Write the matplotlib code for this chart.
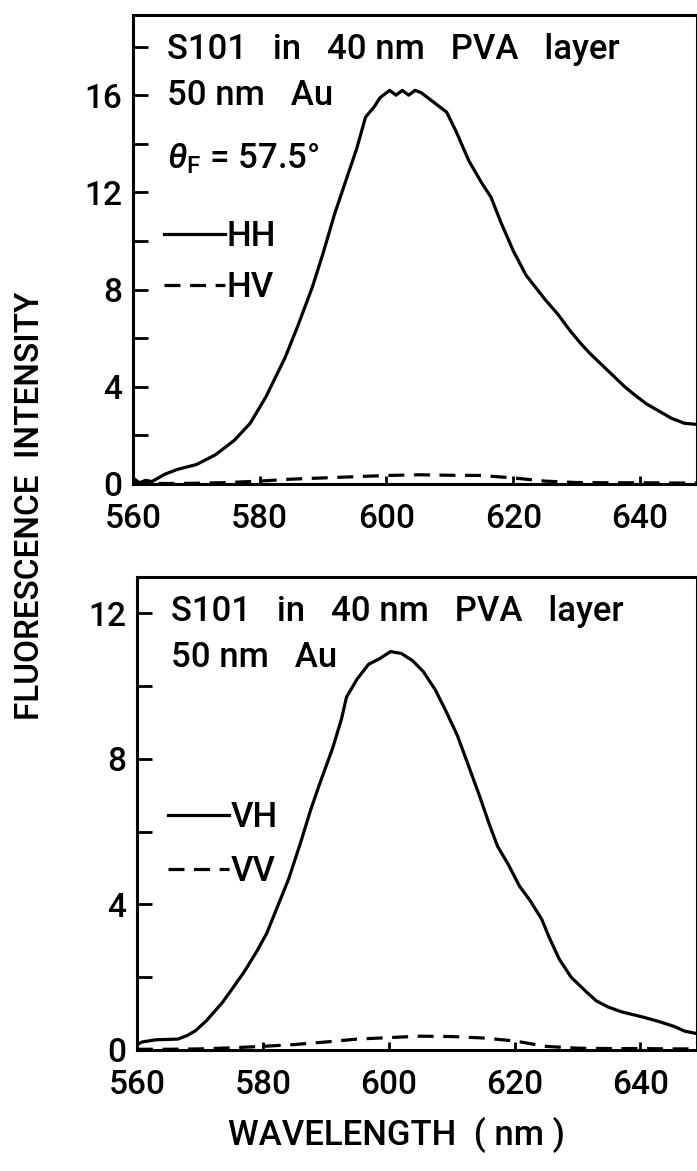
import matplotlib
matplotlib.use('Agg')
import matplotlib.pyplot as plt
from matplotlib.ticker import MultipleLocator, FixedLocator

plt.rcParams['font.family'] = ['Roboto', 'DejaVu Sans']
plt.rcParams['font.weight'] = 'medium'
plt.rcParams['mathtext.fontset'] = 'custom'
plt.rcParams['mathtext.it'] = 'Roboto:italic:medium'
plt.rcParams['mathtext.rm'] = 'Roboto:medium'

# top panel: HH / HV
wl_hh = [560, 561, 562, 563, 565, 567, 570, 573, 576, 578.5, 581, 584, 586, 588.3, 590,
         591.8, 594, 595.3, 596.7, 598, 599, 600.5, 601.5, 602.5, 603.5, 604.5, 605.5,
         607, 608.5, 609.5, 611, 613, 615, 616.5, 618, 620, 622, 623.5, 625, 627, 629,
         630.6, 632, 634, 636, 637.6, 639, 641, 643, 645, 647, 649]
hh = [0.25, 0.05, 0.15, 0.1, 0.4, 0.6, 0.8, 1.2, 1.8, 2.5, 3.6, 5.2, 6.5, 8.1, 9.5,
      11.1, 12.8, 13.8, 15.1, 15.5, 15.9, 16.2, 16.0, 16.2, 16.0, 16.2, 16.1,
      15.8, 15.5, 15.3, 14.5, 13.3, 12.4, 11.8, 10.8, 9.6, 8.6, 8.1, 7.6, 7.0, 6.3,
      5.8, 5.4, 4.9, 4.4, 4.0, 3.7, 3.3, 3.0, 2.7, 2.5, 2.45]
wl_hv = [560, 565, 570, 575, 580, 585, 590, 595, 600, 605, 610, 615, 620, 625, 630, 635, 640, 645, 649]
hv = [0.05, 0.02, 0.03, 0.06, 0.12, 0.2, 0.25, 0.3, 0.35, 0.38, 0.36, 0.35, 0.25, 0.12, 0.06, 0.05, 0.05, 0.04, 0.04]

# bottom panel: VH / VV
wl_vh = [560, 560.8, 563, 566.5, 568, 569.3, 571, 573.5, 575, 577, 579, 580.6, 582, 584.1,
         586, 587.6, 589, 591.1, 592.5, 593.3, 595, 596.8, 598.5, 600.3, 602, 603.8,
         605.5, 607.4, 609, 610.9, 612.5, 614.4, 616, 617.3, 619, 620.8, 622.5, 624.3,
         625.5, 627.1, 629, 631.4, 633, 634.9, 637, 640.5, 643, 645.5, 647, 649]
vh = [0.15, 0.22, 0.28, 0.3, 0.4, 0.53, 0.8, 1.29, 1.65, 2.14, 2.7, 3.2, 3.8, 4.7,
      5.7, 6.6, 7.3, 8.3, 9.1, 9.7, 10.2, 10.6, 10.75, 10.95, 10.9, 10.7,
      10.4, 9.9, 9.35, 8.65, 7.9, 7.0, 6.2, 5.6, 5.1, 4.5, 4.1, 3.6,
      3.1, 2.5, 2.0, 1.6, 1.35, 1.18, 1.05, 0.9, 0.78, 0.64, 0.52, 0.45]
wl_vv = [560, 565, 570, 575, 580, 585, 590, 595, 600, 605, 610, 615, 620, 625, 630, 635, 640, 645, 649]
vv = [0.02, 0.02, 0.03, 0.06, 0.1, 0.15, 0.22, 0.3, 0.34, 0.38, 0.37, 0.33, 0.25, 0.1, 0.05, 0.04, 0.04, 0.03, 0.03]

x_ticks = [560, 580, 600, 620, 640]

LW = 2.3
FS = 25
TFS = 24
DASH = (0, (5, 3))

fig = plt.figure(figsize=(6.97, 11.71), dpi=100)
W, H = 697.0, 1171.0


def make_axes(left, top, right, bottom):
    return fig.add_axes([left / W, 1 - bottom / H, (right - left) / W, (bottom - top) / H])


def style(ax, ymax, ymajor):
    ax.set_xlim(560, 649)
    ax.set_ylim(0, ymax)
    ax.xaxis.set_major_locator(FixedLocator(x_ticks))
    ax.yaxis.set_major_locator(MultipleLocator(ymajor))
    ax.yaxis.set_minor_locator(MultipleLocator(ymajor / 2))
    for s in ax.spines.values():
        s.set_linewidth(2.2)
    ax.tick_params(axis='y', which='both', direction='in', length=11, width=2,
                   labelsize=TFS, pad=8, right=False)
    ax.tick_params(axis='x', which='both', direction='in', length=6, width=2,
                   labelsize=TFS, pad=14, top=False)


def legend(ax, y_top, spacing):
    ax.legend(loc='upper left', bbox_to_anchor=(0.055, y_top), frameon=False, fontsize=FS,
              handlelength=1.75, handletextpad=0.05, labelspacing=spacing, borderpad=0,
              borderaxespad=0)


# top panel
ax1 = make_axes(133, 15, 697, 484)
ax1.plot(wl_hh, hh, color='black', lw=LW, label='HH')
ax1.plot(wl_hv, hv, color='black', lw=LW, ls=DASH, label='HV')
style(ax1, 19.3, 4)
ax1.text(565.4, 17.9, 'S101   in   40 nm   PVA   layer', fontsize=FS, va='center')
ax1.text(565.4, 16.0, '50 nm   Au', fontsize=FS, va='center')
ax1.text(565.4, 13.4, r'$\theta_{\rm F}$ = 57.5°', fontsize=FS, va='center')
legend(ax1, 0.563, 0.52)

# bottom panel
ax2 = make_axes(137, 577, 697, 1050)
ax2.plot(wl_vh, vh, color='black', lw=LW, label='VH')
ax2.plot(wl_vv, vv, color='black', lw=LW, ls=DASH, label='VV')
style(ax2, 13.0, 4)
ax2.text(565.4, 12.06, 'S101   in   40 nm   PVA   layer', fontsize=FS, va='center')
ax2.text(565.4, 10.8, '50 nm   Au', fontsize=FS, va='center')
legend(ax2, 0.527, 0.62)

fig.text(30 / W, 1 - 506 / H, 'FLUORESCENCE  INTENSITY', rotation=90, fontsize=24,
         ha='center', va='center')
fig.text(396 / W, 1 - 1135 / H, 'WAVELENGTH  ( nm )', fontsize=25, ha='center', va='center')

fig.savefig('out.png', dpi=100)
